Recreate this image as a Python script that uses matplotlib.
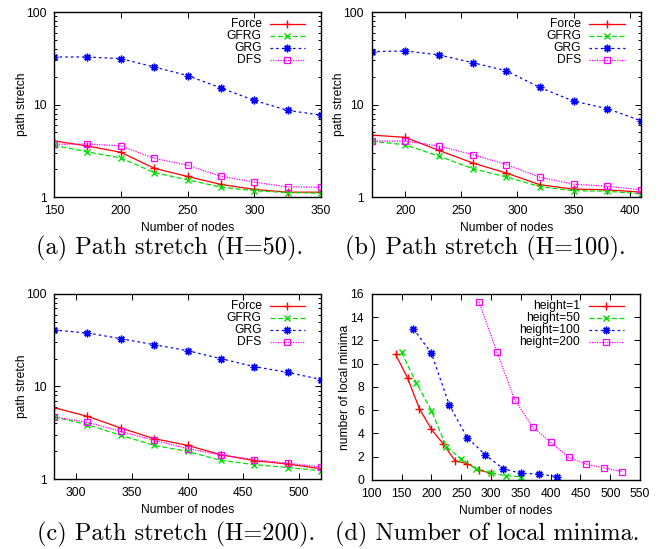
import matplotlib
matplotlib.use("Agg")
import matplotlib.pyplot as plt
from matplotlib.ticker import LogLocator, NullFormatter, FixedLocator

plt.rcParams['font.family'] = ['Liberation Sans', 'DejaVu Sans']

# (a) path stretch, H=50
nodes_a = [150, 175, 200, 225, 250, 275, 300, 325, 350]
force_a = [4.05, 3.57, 3.05, 2.05, 1.67, 1.37, 1.21, 1.13, 1.13]
gfrg_a = [3.63, 3.08, 2.65, 1.84, 1.54, 1.28, 1.17, 1.12, 1.10]
grg_a = [32.7, 32.7, 31.4, 25.5, 20.6, 15.1, 11.1, 8.65, 7.7]
dfs_a = [3.72, 3.75, 3.57, 2.63, 2.21, 1.68, 1.45, 1.29, 1.28]

# (b) path stretch, H=100
nodes_b = [170, 200, 230, 260, 290, 320, 350, 380, 410]
force_b = [4.68, 4.42, 3.19, 2.34, 1.82, 1.36, 1.22, 1.20, 1.13]
gfrg_b = [4.03, 3.67, 2.77, 2.03, 1.65, 1.30, 1.17, 1.16, 1.08]
grg_b = [37.4, 38.0, 34.4, 28.4, 23.2, 15.3, 10.9, 9.05, 6.7]
dfs_b = [4.03, 4.03, 3.55, 2.88, 2.25, 1.64, 1.38, 1.31, 1.20]

# (c) path stretch, H=200
nodes_c = [280, 310, 340, 370, 400, 430, 460, 490, 520]
force_c = [5.9, 4.76, 3.56, 2.73, 2.31, 1.83, 1.58, 1.45, 1.29]
gfrg_c = [4.68, 3.87, 2.97, 2.31, 1.99, 1.59, 1.43, 1.33, 1.23]
grg_c = [40.8, 37.9, 32.9, 28.3, 24.4, 20.0, 16.4, 14.2, 11.9]
dfs_c = [4.68, 4.10, 3.27, 2.62, 2.13, 1.82, 1.62, 1.48, 1.35]

# (d) number of local minima
nodes_h1 = [140, 160, 180, 200, 220, 240, 260, 280, 300]
minima_h1 = [10.8, 8.77, 6.12, 4.37, 3.08, 1.64, 1.41, 0.86, 0.58]
nodes_h50 = [150, 175, 200, 225, 250, 275, 300, 325, 350]
minima_h50 = [10.97, 8.33, 5.97, 2.87, 1.81, 0.95, 0.58, 0.38, 0.27]
nodes_h100 = [170, 200, 230, 260, 290, 320, 350, 380, 410]
minima_h100 = [12.99, 10.9, 6.46, 3.65, 2.18, 0.98, 0.57, 0.52, 0.29]
nodes_h200 = [280, 310, 340, 370, 400, 430, 460, 490, 520]
minima_h200 = [15.29, 10.98, 6.87, 4.54, 3.25, 1.95, 1.35, 1.03, 0.72]

stretch_labels = ["Force", "GFRG", "GRG", "DFS"]
minima_labels = ["height=1", "height=50", "height=100", "height=200"]
captions = ["(a) Path stretch (H=50).", "(b) Path stretch (H=100).",
            "(c) Path stretch (H=200).", "(d) Number of local minima."]

FS = 8.7

# gnuplot-like line types
styles = [
    dict(color='#ff0000', ls='-', marker='+', ms=5.5, mew=1.0, lw=0.9),
    dict(color='#00e000', ls=(0, (4, 2)), marker='x', ms=4.5, mew=1.0, lw=0.9),
    dict(color='#0000ff', ls=(0, (2, 2.5)), marker=(8, 2, 0), ms=5.5, mew=1.0, lw=0.9),
    dict(color='#ff00ff', ls=(0, (1, 1)), marker='s', ms=5, mew=0.9, lw=0.9, mfc='none'),
]


def gp_legend(ax, labels):
    # right aligned labels with a line sample on the right, like gnuplot
    for i, (lab, st) in enumerate(zip(labels, styles)):
        y = 0.937 - i * 0.066
        ax.text(0.777, y, lab, transform=ax.transAxes, ha='right', va='center', fontsize=FS)
        ax.plot([0.808, 0.94], [y, y], transform=ax.transAxes,
                color=st['color'], ls=st['ls'], lw=st['lw'])
        ax.plot([0.874], [y], transform=ax.transAxes, marker=st['marker'], color=st['color'],
                ms=st['ms'], mew=st['mew'], mfc=st.get('mfc', st['color']), ls='none')


def style_axes(ax, ylab, ylab_x):
    ax.tick_params(which='both', direction='in', top=True, right=True, labelsize=FS, width=0.7)
    ax.tick_params(which='major', length=4.5, pad=5.5)
    ax.tick_params(which='minor', length=2.5)
    for sp in ax.spines.values():
        sp.set_linewidth(1.0)
    ax.set_xlabel("Number of nodes", fontsize=FS, va='center')
    ax.xaxis.set_label_coords(0.5, -0.165)
    ax.set_ylabel(ylab, fontsize=FS, va='center')
    ax.yaxis.set_label_coords(ylab_x, 0.5)


fig = plt.figure(figsize=(6.71, 5.49), dpi=100)
rects = [(0.0805, 0.641, 0.398, 0.337), (0.554, 0.641, 0.401, 0.337),
         (0.0805, 0.1275, 0.398, 0.337), (0.554, 0.1257, 0.400, 0.339)]
axs = [fig.add_axes(r) for r in rects]

stretch_sets = [
    (nodes_a, [force_a, gfrg_a, grg_a, dfs_a], (150, 350), [150, 200, 250, 300, 350]),
    (nodes_b, [force_b, gfrg_b, grg_b, dfs_b], (170, 410), [200, 250, 300, 350, 400]),
    (nodes_c, [force_c, gfrg_c, grg_c, dfs_c], (280, 520), [300, 350, 400, 450, 500]),
]

for ax, (xs, series, xlim, xt) in zip(axs[:3], stretch_sets):
    for ys, st in zip(series, styles):
        ax.plot(xs, ys, **st)
    ax.set_yscale('log')
    ax.set_ylim(1, 100)
    ax.set_xlim(*xlim)
    ax.xaxis.set_major_locator(FixedLocator(xt))
    ax.yaxis.set_major_locator(FixedLocator([1, 10, 100]))
    ax.yaxis.set_major_formatter(plt.FuncFormatter(lambda v, p: f"{v:g}"))
    ax.yaxis.set_minor_locator(LogLocator(base=10, subs=range(2, 10)))
    ax.yaxis.set_minor_formatter(NullFormatter())
    style_axes(ax, "path stretch", -0.12)
    gp_legend(ax, stretch_labels)

axd = axs[3]
for xs, ys, st in zip([nodes_h1, nodes_h50, nodes_h100, nodes_h200],
                      [minima_h1, minima_h50, minima_h100, minima_h200], styles):
    axd.plot(xs, ys, **st)
axd.set_xlim(100, 550)
axd.set_ylim(0, 16)
axd.set_xticks(range(100, 551, 50))
axd.set_yticks(range(0, 17, 2))
style_axes(axd, "number of local minima", -0.10)
gp_legend(axd, minima_labels)

cap_pos = [(0.253, 0.548), (0.723, 0.548), (0.262, 0.026), (0.726, 0.026)]
for (cx, cy), cap in zip(cap_pos, captions):
    fig.text(cx, cy, cap, ha='center', va='center', fontsize=17.5, family='cmr10')

fig.savefig("out.png", dpi=100)
